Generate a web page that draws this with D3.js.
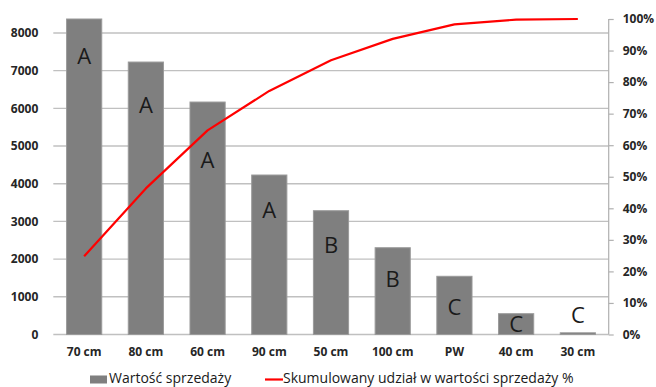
<!DOCTYPE html>
<html><head><meta charset="utf-8">
<script src="https://cdn.jsdelivr.net/npm/d3@7/dist/d3.min.js"></script>
<style>
html,body{margin:0;padding:0;background:#fff;}
svg{display:block;}
</style></head>
<body>
<svg id="chart" width="656" height="387"></svg>
<script>
const categories = ["70 cm","80 cm","60 cm","90 cm","50 cm","100 cm","PW","40 cm","30 cm"];
const salesValues = [8370, 7228, 6167, 4231, 3284, 2302, 1544, 552, 45];
const cumulativeShare = [0.248, 0.463, 0.647, 0.772, 0.869, 0.937, 0.983, 0.998, 1.0];
const abcClass = ["A","A","A","A","B","B","C","C","C"];
const abcLabelAt = [7175, 5875, 4416, 3090, 2162, 1260, 517, 66, 305];
const leftTicks = [0,1000,2000,3000,4000,5000,6000,7000,8000];
const rightTicks = [0,0.1,0.2,0.3,0.4,0.5,0.6,0.7,0.8,0.9,1.0];
const seriesNames = ["Wartość sprzedaży","Skumulowany udział w wartości sprzedaży %"];

const svg = d3.select("#chart");
const pLeft = 53.3, pRight = 608.7, pTop = 19, pBottom = 334.5;
const font = "'Open Sans', 'DejaVu Sans', sans-serif";

const x = d3.scaleBand().domain(categories).range([pLeft, pRight]).paddingInner(0.43).paddingOuter(0.215);
const y = d3.scaleLinear().domain([0, 8370]).range([pBottom, pTop]);
const y2 = d3.scaleLinear().domain([0, 1]).range([pBottom, pTop]);

// gridlines
svg.append("g").selectAll("line").data(leftTicks).join("line")
  .attr("x1", pLeft).attr("x2", pRight)
  .attr("y1", d => y(d)).attr("y2", d => y(d))
  .attr("stroke", "#c0c0c0").attr("stroke-width", 1.4);

// left axis labels
const gl = svg.append("g").attr("transform", `translate(${pLeft},0)`)
  .call(d3.axisLeft(y).tickValues(leftTicks).tickSize(0).tickPadding(15).tickFormat(d3.format("d")));
gl.select(".domain").remove();
gl.selectAll("text").attr("font-family", font).attr("font-weight", "bold").attr("font-size", 12).attr("fill", "#262626");

// right axis
const gr = svg.append("g").attr("transform", `translate(${pRight},0)`)
  .call(d3.axisRight(y2).tickValues(rightTicks).tickSize(5).tickPadding(9).tickFormat(d3.format(".0%")));
gr.select(".domain").attr("stroke", "#b0b0b0").attr("stroke-width", 1.2).attr("d", `M0,${pTop}V${pBottom}`);
gr.selectAll(".tick line").attr("stroke", "#b0b0b0").attr("stroke-width", 1.2);
gr.selectAll("text").attr("font-family", font).attr("font-weight", "bold").attr("font-size", 12).attr("fill", "#262626");

// bars
svg.append("g").selectAll("rect").data(salesValues).join("rect")
  .attr("x", (d, i) => x(categories[i]))
  .attr("width", x.bandwidth())
  .attr("y", d => y(d))
  .attr("height", d => pBottom - y(d))
  .attr("fill", "#7f7f7f").attr("stroke", "#9a9a9a").attr("stroke-width", 1);

// bottom axis labels
const gb = svg.append("g").attr("transform", `translate(0,${pBottom})`)
  .call(d3.axisBottom(x).tickSize(0).tickPadding(13));
gb.select(".domain").remove();
gb.selectAll("text").attr("font-family", font).attr("font-weight", "bold").attr("font-size", 12).attr("fill", "#262626");

// ABC labels
svg.append("g").selectAll("text").data(abcClass).join("text")
  .attr("x", (d, i) => x(categories[i]) + x.bandwidth() / 2)
  .attr("y", (d, i) => y(abcLabelAt[i]))
  .attr("text-anchor", "middle")
  .attr("font-family", font).attr("font-size", 22).attr("fill", "#1a1a1a")
  .text(d => d);

// cumulative line
const line = d3.line()
  .x((d, i) => x(categories[i]) + x.bandwidth() / 2)
  .y(d => y2(d));
svg.append("path").datum(cumulativeShare)
  .attr("d", line).attr("fill", "none").attr("stroke", "#ff0000").attr("stroke-width", 2.2)
  .attr("stroke-linejoin", "round");

// legend
const lg = svg.append("g");
lg.append("rect").attr("x", 90).attr("y", 375.5).attr("width", 17).attr("height", 8).attr("fill", "#7f7f7f");
lg.append("text").attr("x", 109).attr("y", 382.5).attr("font-family", font).attr("font-size", 14).attr("fill", "#1a1a1a").text(seriesNames[0]);
lg.append("line").attr("x1", 265).attr("x2", 283).attr("y1", 379.5).attr("y2", 379.5).attr("stroke", "#ff0000").attr("stroke-width", 2.2);
lg.append("text").attr("x", 283).attr("y", 382.5).attr("font-family", font).attr("font-size", 14).attr("fill", "#1a1a1a").text(seriesNames[1]);
</script>
</body></html>
